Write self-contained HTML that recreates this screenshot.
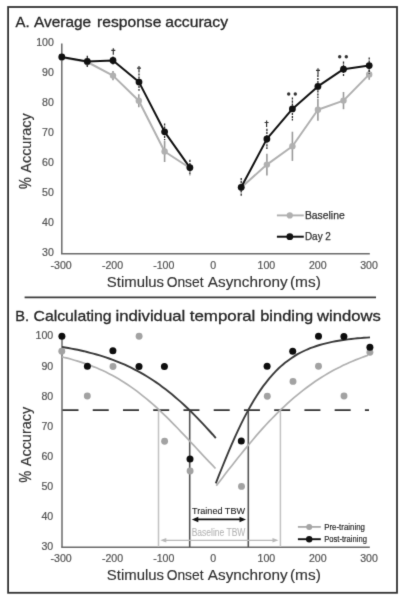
<!DOCTYPE html>
<html><head><meta charset="utf-8"><style>
html,body{margin:0;padding:0;background:#fff;}
body{width:403px;height:600px;overflow:hidden;}
svg{display:block;}
</style></head><body>
<svg width="403" height="600" viewBox="0 0 403 600" font-family='"Liberation Sans", sans-serif'>
<defs><filter id="b" x="0" y="0" width="403" height="600" filterUnits="userSpaceOnUse" color-interpolation-filters="sRGB"><feConvolveMatrix order="3" kernelMatrix="0.01134 0.08382 0.01134 0.08382 0.61935 0.08382 0.01134 0.08382 0.01134" divisor="1" edgeMode="none"/></filter></defs>
<rect x="0" y="0" width="403" height="600" fill="#fff"/>
<g filter="url(#b)">
<rect x="8.1" y="7" width="388.9" height="585.8" fill="none" stroke="#333" stroke-width="1.8"/>
<line x1="24.6" y1="297.4" x2="376" y2="297.4" stroke="#3c3c3c" stroke-width="1.6"/>
<text x="15.50" y="27.10" font-size="15" fill="#262626" stroke="#262626" stroke-width="0.3" textLength="14.08" lengthAdjust="spacingAndGlyphs">A.</text>
<text x="34.00" y="27.10" font-size="15" fill="#262626" stroke="#262626" stroke-width="0.3" textLength="57.13" lengthAdjust="spacingAndGlyphs">Average</text>
<text x="97.12" y="27.10" font-size="15" fill="#262626" stroke="#262626" stroke-width="0.3" textLength="64.27" lengthAdjust="spacingAndGlyphs">response</text>
<text x="165.28" y="27.10" font-size="15" fill="#262626" stroke="#262626" stroke-width="0.3" textLength="62.76" lengthAdjust="spacingAndGlyphs">accuracy</text>
<text x="15.22" y="320.80" font-size="15" fill="#262626" stroke="#262626" stroke-width="0.3" textLength="13.83" lengthAdjust="spacingAndGlyphs">B.</text>
<text x="33.47" y="320.80" font-size="15" fill="#262626" stroke="#262626" stroke-width="0.3" textLength="78.18" lengthAdjust="spacingAndGlyphs">Calculating</text>
<text x="115.46" y="320.80" font-size="15" fill="#262626" stroke="#262626" stroke-width="0.3" textLength="69.83" lengthAdjust="spacingAndGlyphs">individual</text>
<text x="189.80" y="320.80" font-size="15" fill="#262626" stroke="#262626" stroke-width="0.3" textLength="65.57" lengthAdjust="spacingAndGlyphs">temporal</text>
<text x="260.18" y="320.80" font-size="15" fill="#262626" stroke="#262626" stroke-width="0.3" textLength="53.10" lengthAdjust="spacingAndGlyphs">binding</text>
<text x="317.08" y="320.80" font-size="15" fill="#262626" stroke="#262626" stroke-width="0.3" textLength="63.71" lengthAdjust="spacingAndGlyphs">windows</text>
<line x1="61.8" y1="43.40" x2="61.8" y2="253.80" stroke="#6a6a6a" stroke-width="1.5"/>
<line x1="61.05" y1="253.80" x2="369.8" y2="253.80" stroke="#6a6a6a" stroke-width="1.5"/>
<text x="53.90" y="255.99" font-size="10.6" fill="#555" stroke="#555" stroke-width="0.2" text-anchor="end">30</text>
<text x="53.90" y="225.92" font-size="10.6" fill="#555" stroke="#555" stroke-width="0.2" text-anchor="end">40</text>
<text x="53.90" y="195.85" font-size="10.6" fill="#555" stroke="#555" stroke-width="0.2" text-anchor="end">50</text>
<text x="53.90" y="165.78" font-size="10.6" fill="#555" stroke="#555" stroke-width="0.2" text-anchor="end">60</text>
<text x="53.90" y="135.71" font-size="10.6" fill="#555" stroke="#555" stroke-width="0.2" text-anchor="end">70</text>
<text x="53.90" y="105.64" font-size="10.6" fill="#555" stroke="#555" stroke-width="0.2" text-anchor="end">80</text>
<text x="53.90" y="75.57" font-size="10.6" fill="#555" stroke="#555" stroke-width="0.2" text-anchor="end">90</text>
<text x="53.90" y="45.50" font-size="10.6" fill="#555" stroke="#555" stroke-width="0.2" text-anchor="end">100</text>
<text x="61.17" y="268.60" font-size="10.6" fill="#555" stroke="#555" stroke-width="0.2" text-anchor="middle">-300</text>
<text x="112.48" y="268.60" font-size="10.6" fill="#555" stroke="#555" stroke-width="0.2" text-anchor="middle">-200</text>
<text x="163.79" y="268.60" font-size="10.6" fill="#555" stroke="#555" stroke-width="0.2" text-anchor="middle">-100</text>
<text x="213.20" y="268.60" font-size="10.6" fill="#555" stroke="#555" stroke-width="0.2" text-anchor="middle">0</text>
<text x="266.41" y="268.60" font-size="10.6" fill="#555" stroke="#555" stroke-width="0.2" text-anchor="middle">100</text>
<text x="317.72" y="268.60" font-size="10.6" fill="#555" stroke="#555" stroke-width="0.2" text-anchor="middle">200</text>
<text x="369.03" y="268.60" font-size="10.6" fill="#555" stroke="#555" stroke-width="0.2" text-anchor="middle">300</text>
<text x="106.87" y="286.50" font-size="14.2" fill="#333" stroke="#333" stroke-width="0.15" textLength="57.15" lengthAdjust="spacingAndGlyphs">Stimulus</text>
<text x="166.71" y="286.50" font-size="14.2" fill="#333" stroke="#333" stroke-width="0.15" textLength="36.79" lengthAdjust="spacingAndGlyphs">Onset</text>
<text x="207.80" y="286.50" font-size="14.2" fill="#333" stroke="#333" stroke-width="0.15" textLength="79.93" lengthAdjust="spacingAndGlyphs">Asynchrony</text>
<text x="289.98" y="286.50" font-size="14.2" fill="#333" stroke="#333" stroke-width="0.15" textLength="30.87" lengthAdjust="spacingAndGlyphs">(ms)</text>
<g transform="translate(30.7 188.70) rotate(-90)">
<text x="-0.40" y="0.00" font-size="16.5" fill="#333" stroke="#333" stroke-width="0.3" textLength="11.74" lengthAdjust="spacingAndGlyphs">%</text>
<text x="16.00" y="0.00" font-size="15.2" fill="#333" stroke="#333" stroke-width="0.15" textLength="59.37" lengthAdjust="spacingAndGlyphs">Accuracy</text>
</g>
<line x1="61.8" y1="57.50" x2="61.8" y2="57.50" stroke="#9a9a9a" stroke-width="1.6"/>
<line x1="87.3" y1="58.00" x2="87.3" y2="66.00" stroke="#9a9a9a" stroke-width="1.6"/>
<line x1="113.0" y1="70.90" x2="113.0" y2="80.30" stroke="#9a9a9a" stroke-width="1.6"/>
<line x1="138.8" y1="94.30" x2="138.8" y2="107.30" stroke="#9a9a9a" stroke-width="1.6"/>
<line x1="164.6" y1="141.00" x2="164.6" y2="162.00" stroke="#9a9a9a" stroke-width="1.6"/>
<line x1="189.9" y1="164.00" x2="189.9" y2="172.00" stroke="#9a9a9a" stroke-width="1.6"/>
<line x1="241.2" y1="183.50" x2="241.2" y2="191.50" stroke="#9a9a9a" stroke-width="1.6"/>
<line x1="266.9" y1="153.80" x2="266.9" y2="175.40" stroke="#9a9a9a" stroke-width="1.6"/>
<line x1="292.4" y1="131.70" x2="292.4" y2="160.90" stroke="#9a9a9a" stroke-width="1.6"/>
<line x1="317.9" y1="98.70" x2="317.9" y2="120.70" stroke="#9a9a9a" stroke-width="1.6"/>
<line x1="343.5" y1="92.00" x2="343.5" y2="109.20" stroke="#9a9a9a" stroke-width="1.6"/>
<line x1="369.2" y1="69.10" x2="369.2" y2="79.70" stroke="#9a9a9a" stroke-width="1.6"/>
<polyline points="61.8,57.5 87.3,62.0 113.0,75.6 138.8,100.8 164.6,151.5 189.9,168.0" fill="none" stroke="#b0b0b0" stroke-width="2.0" stroke-linejoin="round"/>
<polyline points="241.2,187.5 266.9,164.6 292.4,146.3 317.9,109.7 343.5,100.6 369.2,74.4" fill="none" stroke="#b0b0b0" stroke-width="2.0" stroke-linejoin="round"/>
<circle cx="61.8" cy="57.5" r="3.2" fill="#b0b0b0"/>
<circle cx="87.3" cy="62.0" r="3.2" fill="#b0b0b0"/>
<circle cx="113.0" cy="75.6" r="3.2" fill="#b0b0b0"/>
<circle cx="138.8" cy="100.8" r="3.2" fill="#b0b0b0"/>
<circle cx="164.6" cy="151.5" r="3.2" fill="#b0b0b0"/>
<circle cx="189.9" cy="168.0" r="3.2" fill="#b0b0b0"/>
<circle cx="241.2" cy="187.5" r="3.2" fill="#b0b0b0"/>
<circle cx="266.9" cy="164.6" r="3.2" fill="#b0b0b0"/>
<circle cx="292.4" cy="146.3" r="3.2" fill="#b0b0b0"/>
<circle cx="317.9" cy="109.7" r="3.2" fill="#b0b0b0"/>
<circle cx="343.5" cy="100.6" r="3.2" fill="#b0b0b0"/>
<circle cx="369.2" cy="74.4" r="3.2" fill="#b0b0b0"/>
<line x1="61.8" y1="57.00" x2="61.8" y2="57.00" stroke="#2a2a2a" stroke-width="1.3" stroke-dasharray="2.2 0.9"/>
<line x1="87.3" y1="55.80" x2="87.3" y2="67.00" stroke="#2a2a2a" stroke-width="1.3" stroke-dasharray="2.2 0.9"/>
<line x1="113.0" y1="56.50" x2="113.0" y2="64.50" stroke="#2a2a2a" stroke-width="1.3" stroke-dasharray="2.2 0.9"/>
<line x1="139.0" y1="73.40" x2="139.0" y2="90.80" stroke="#2a2a2a" stroke-width="1.3" stroke-dasharray="2.2 0.9"/>
<line x1="164.6" y1="123.40" x2="164.6" y2="140.20" stroke="#2a2a2a" stroke-width="1.3" stroke-dasharray="2.2 0.9"/>
<line x1="189.9" y1="159.80" x2="189.9" y2="175.40" stroke="#2a2a2a" stroke-width="1.3" stroke-dasharray="2.2 0.9"/>
<line x1="241.2" y1="178.00" x2="241.2" y2="196.60" stroke="#2a2a2a" stroke-width="1.3" stroke-dasharray="2.2 0.9"/>
<line x1="266.9" y1="128.70" x2="266.9" y2="149.10" stroke="#2a2a2a" stroke-width="1.3" stroke-dasharray="2.2 0.9"/>
<line x1="292.4" y1="97.40" x2="292.4" y2="120.40" stroke="#2a2a2a" stroke-width="1.3" stroke-dasharray="2.2 0.9"/>
<line x1="317.9" y1="74.80" x2="317.9" y2="98.00" stroke="#2a2a2a" stroke-width="1.3" stroke-dasharray="2.2 0.9"/>
<line x1="343.5" y1="61.50" x2="343.5" y2="76.90" stroke="#2a2a2a" stroke-width="1.3" stroke-dasharray="2.2 0.9"/>
<line x1="369.2" y1="57.40" x2="369.2" y2="73.80" stroke="#2a2a2a" stroke-width="1.3" stroke-dasharray="2.2 0.9"/>
<polyline points="61.8,57.0 87.3,61.4 113.0,60.5 139.0,82.1 164.6,131.8 189.9,167.6" fill="none" stroke="#111" stroke-width="2.0" stroke-linejoin="round"/>
<polyline points="241.2,187.3 266.9,138.9 292.4,108.9 317.9,86.4 343.5,69.2 369.2,65.6" fill="none" stroke="#111" stroke-width="2.0" stroke-linejoin="round"/>
<circle cx="61.8" cy="57.0" r="3.4" fill="#111"/>
<circle cx="87.3" cy="61.4" r="3.4" fill="#111"/>
<circle cx="113.0" cy="60.5" r="3.4" fill="#111"/>
<circle cx="139.0" cy="82.1" r="3.4" fill="#111"/>
<circle cx="164.6" cy="131.8" r="3.4" fill="#111"/>
<circle cx="189.9" cy="167.6" r="3.4" fill="#111"/>
<circle cx="241.2" cy="187.3" r="3.4" fill="#111"/>
<circle cx="266.9" cy="138.9" r="3.4" fill="#111"/>
<circle cx="292.4" cy="108.9" r="3.4" fill="#111"/>
<circle cx="317.9" cy="86.4" r="3.4" fill="#111"/>
<circle cx="343.5" cy="69.2" r="3.4" fill="#111"/>
<circle cx="369.2" cy="65.6" r="3.4" fill="#111"/>
<path d="M113.3,48.2 V54.800000000000004 M111.3,50.300000000000004 H115.3" stroke="#333" stroke-width="1.2" fill="none"/>
<path d="M139,66 V72.6 M137.0,68.1 H141.0" stroke="#333" stroke-width="1.2" fill="none"/>
<path d="M266.6,120.4 V127.0 M264.6,122.5 H268.6" stroke="#333" stroke-width="1.2" fill="none"/>
<path d="M318,68.2 V74.8 M316.0,70.3 H320.0" stroke="#333" stroke-width="1.2" fill="none"/>
<circle cx="288.7" cy="94" r="1.7" fill="#333"/><circle cx="295.3" cy="94" r="1.7" fill="#333"/>
<circle cx="339.7" cy="56.8" r="1.7" fill="#333"/><circle cx="346.3" cy="56.8" r="1.7" fill="#333"/>
<line x1="276.9" y1="215.4" x2="303.8" y2="215.4" stroke="#b0b0b0" stroke-width="1.9"/><circle cx="289.8" cy="215.4" r="3.1" fill="#b0b0b0"/>
<line x1="276.9" y1="236.7" x2="303.8" y2="236.7" stroke="#111" stroke-width="2.0"/><circle cx="289.8" cy="236.7" r="3.4" fill="#111"/>
<text x="304.92" y="219.00" font-size="10" fill="#333" stroke="#333" stroke-width="0.25" textLength="39.75" lengthAdjust="spacingAndGlyphs">Baseline</text>
<text x="304.96" y="239.90" font-size="10" fill="#333" stroke="#333" stroke-width="0.25" textLength="25.92" lengthAdjust="spacingAndGlyphs">Day 2</text>
<line x1="62.0" y1="337.00" x2="62.0" y2="547.30" stroke="#6a6a6a" stroke-width="1.5"/>
<line x1="61.25" y1="547.30" x2="369.8" y2="547.30" stroke="#6a6a6a" stroke-width="1.5"/>
<text x="53.20" y="550.10" font-size="10.6" fill="#555" stroke="#555" stroke-width="0.2" text-anchor="end">30</text>
<text x="53.20" y="520.00" font-size="10.6" fill="#555" stroke="#555" stroke-width="0.2" text-anchor="end">40</text>
<text x="53.20" y="489.90" font-size="10.6" fill="#555" stroke="#555" stroke-width="0.2" text-anchor="end">50</text>
<text x="53.20" y="459.80" font-size="10.6" fill="#555" stroke="#555" stroke-width="0.2" text-anchor="end">60</text>
<text x="53.20" y="429.70" font-size="10.6" fill="#555" stroke="#555" stroke-width="0.2" text-anchor="end">70</text>
<text x="53.20" y="399.60" font-size="10.6" fill="#555" stroke="#555" stroke-width="0.2" text-anchor="end">80</text>
<text x="53.20" y="369.50" font-size="10.6" fill="#555" stroke="#555" stroke-width="0.2" text-anchor="end">90</text>
<text x="53.20" y="339.40" font-size="10.6" fill="#555" stroke="#555" stroke-width="0.2" text-anchor="end">100</text>
<text x="61.17" y="562.00" font-size="10.6" fill="#555" stroke="#555" stroke-width="0.2" text-anchor="middle">-300</text>
<text x="112.48" y="562.00" font-size="10.6" fill="#555" stroke="#555" stroke-width="0.2" text-anchor="middle">-200</text>
<text x="163.79" y="562.00" font-size="10.6" fill="#555" stroke="#555" stroke-width="0.2" text-anchor="middle">-100</text>
<text x="213.20" y="562.00" font-size="10.6" fill="#555" stroke="#555" stroke-width="0.2" text-anchor="middle">0</text>
<text x="266.41" y="562.00" font-size="10.6" fill="#555" stroke="#555" stroke-width="0.2" text-anchor="middle">100</text>
<text x="317.72" y="562.00" font-size="10.6" fill="#555" stroke="#555" stroke-width="0.2" text-anchor="middle">200</text>
<text x="369.03" y="562.00" font-size="10.6" fill="#555" stroke="#555" stroke-width="0.2" text-anchor="middle">300</text>
<text x="106.87" y="580.20" font-size="14.2" fill="#333" stroke="#333" stroke-width="0.15" textLength="57.15" lengthAdjust="spacingAndGlyphs">Stimulus</text>
<text x="166.71" y="580.20" font-size="14.2" fill="#333" stroke="#333" stroke-width="0.15" textLength="36.79" lengthAdjust="spacingAndGlyphs">Onset</text>
<text x="207.80" y="580.20" font-size="14.2" fill="#333" stroke="#333" stroke-width="0.15" textLength="79.93" lengthAdjust="spacingAndGlyphs">Asynchrony</text>
<text x="289.98" y="580.20" font-size="14.2" fill="#333" stroke="#333" stroke-width="0.15" textLength="30.87" lengthAdjust="spacingAndGlyphs">(ms)</text>
<g transform="translate(30.7 482.20) rotate(-90)">
<text x="-0.40" y="0.00" font-size="16.5" fill="#333" stroke="#333" stroke-width="0.3" textLength="11.74" lengthAdjust="spacingAndGlyphs">%</text>
<text x="16.00" y="0.00" font-size="15.2" fill="#333" stroke="#333" stroke-width="0.15" textLength="59.37" lengthAdjust="spacingAndGlyphs">Accuracy</text>
</g>
<line x1="62.5" y1="410.2" x2="369" y2="410.2" stroke="#333" stroke-width="1.8" stroke-dasharray="16 14.24"/>
<line x1="158.5" y1="410.2" x2="158.5" y2="547" stroke="#c2c2c2" stroke-width="1.5"/>
<line x1="280.4" y1="410.2" x2="280.4" y2="547" stroke="#c2c2c2" stroke-width="1.5"/>
<line x1="189.7" y1="410.2" x2="189.7" y2="547" stroke="#555" stroke-width="1.6"/>
<line x1="248.3" y1="410.2" x2="248.3" y2="547" stroke="#555" stroke-width="1.6"/>
<path d="M62.0,356.9 L65.1,357.7 L68.3,358.4 L71.4,359.3 L74.5,360.2 L77.7,361.1 L80.8,362.1 L83.9,363.1 L87.1,364.2 L90.2,365.3 L93.3,366.6 L96.5,367.8 L99.6,369.2 L102.7,370.6 L105.9,372.1 L109.0,373.7 L112.1,375.3 L115.3,377.0 L118.4,378.8 L121.5,380.7 L124.7,382.7 L127.8,384.8 L130.9,386.9 L134.1,389.1 L137.2,391.4 L140.3,393.8 L143.4,396.3 L146.6,398.9 L149.7,401.5 L152.8,404.2 L156.0,407.0 L159.1,409.9 L162.2,412.8 L165.4,415.9 L168.5,418.9 L171.6,422.1 L174.8,425.3 L177.9,428.5 L181.0,431.8 L184.2,435.1 L187.3,438.4 L190.4,441.8 L193.6,445.1 L196.7,448.5 L199.8,451.9 L203.0,455.3 L206.1,458.6 L209.2,461.9 L212.4,465.2 L215.5,468.5" fill="none" stroke="#b0b0b0" stroke-width="1.7" stroke-linecap="butt"/>
<path d="M216.3,485.8 L219.4,481.7 L222.5,477.7 L225.6,473.6 L228.7,469.6 L231.8,465.7 L234.9,461.7 L238.0,457.8 L241.1,454.0 L244.2,450.1 L247.3,446.4 L250.4,442.7 L253.5,439.0 L256.5,435.4 L259.6,431.9 L262.7,428.4 L265.8,425.0 L268.9,421.7 L272.0,418.5 L275.1,415.3 L278.2,412.2 L281.3,409.2 L284.4,406.3 L287.5,403.4 L290.6,400.6 L293.7,397.9 L296.8,395.3 L299.9,392.8 L303.0,390.4 L306.1,388.0 L309.2,385.7 L312.3,383.5 L315.4,381.3 L318.5,379.3 L321.6,377.3 L324.7,375.4 L327.8,373.5 L330.8,371.8 L333.9,370.1 L337.0,368.4 L340.1,366.9 L343.2,365.3 L346.3,363.9 L349.4,362.5 L352.5,361.2 L355.6,359.9 L358.7,358.7 L361.8,357.5 L364.9,356.4 L368.0,355.3" fill="none" stroke="#b0b0b0" stroke-width="1.7" stroke-linecap="butt"/>
<path d="M62.0,347.0 L65.1,347.5 L68.3,348.0 L71.4,348.6 L74.6,349.2 L77.7,349.8 L80.8,350.5 L84.0,351.2 L87.1,352.0 L90.2,352.8 L93.4,353.6 L96.5,354.5 L99.7,355.4 L102.8,356.4 L105.9,357.4 L109.1,358.5 L112.2,359.6 L115.4,360.8 L118.5,362.1 L121.6,363.4 L124.8,364.7 L127.9,366.2 L131.1,367.7 L134.2,369.3 L137.3,370.9 L140.5,372.6 L143.6,374.4 L146.7,376.3 L149.9,378.3 L153.0,380.3 L156.2,382.4 L159.3,384.6 L162.4,386.9 L165.6,389.3 L168.7,391.7 L171.9,394.3 L175.0,396.9 L178.1,399.6 L181.3,402.4 L184.4,405.3 L187.6,408.3 L190.7,411.3 L193.8,414.4 L197.0,417.6 L200.1,420.9 L203.2,424.2 L206.4,427.6 L209.5,431.0 L212.7,434.5 L215.8,438.1" fill="none" stroke="#3a3a3a" stroke-width="1.9" stroke-linecap="butt"/>
<path d="M215.8,483.3 L218.9,475.3 L222.1,467.5 L225.2,459.8 L228.4,452.2 L231.5,444.8 L234.7,437.7 L237.8,430.8 L241.0,424.2 L244.1,417.9 L247.3,411.9 L250.4,406.2 L253.6,400.8 L256.7,395.7 L259.9,390.9 L263.0,386.4 L266.2,382.3 L269.3,378.4 L272.4,374.8 L275.6,371.4 L278.7,368.3 L281.9,365.4 L285.0,362.8 L288.2,360.4 L291.3,358.2 L294.5,356.1 L297.6,354.2 L300.8,352.5 L303.9,351.0 L307.1,349.5 L310.2,348.2 L313.4,347.1 L316.5,346.0 L319.6,345.0 L322.8,344.1 L325.9,343.3 L329.1,342.6 L332.2,341.9 L335.4,341.3 L338.5,340.7 L341.7,340.2 L344.8,339.8 L348.0,339.4 L351.1,339.0 L354.3,338.6 L357.4,338.3 L360.6,338.1 L363.7,337.8 L366.9,337.6 L370.0,337.4" fill="none" stroke="#3a3a3a" stroke-width="1.9" stroke-linecap="butt"/>
<circle cx="61.8" cy="351.3" r="3.45" fill="#a2a2a2"/>
<circle cx="87.3" cy="396" r="3.45" fill="#a2a2a2"/>
<circle cx="113.0" cy="366.5" r="3.45" fill="#a2a2a2"/>
<circle cx="139.1" cy="336.2" r="3.45" fill="#a2a2a2"/>
<circle cx="164.6" cy="441.25" r="3.45" fill="#a2a2a2"/>
<circle cx="190.1" cy="471.0" r="3.45" fill="#a2a2a2"/>
<circle cx="241.5" cy="486.4" r="3.45" fill="#a2a2a2"/>
<circle cx="267.3" cy="396.3" r="3.45" fill="#a2a2a2"/>
<circle cx="293.0" cy="381.4" r="3.45" fill="#a2a2a2"/>
<circle cx="318.5" cy="366.2" r="3.45" fill="#a2a2a2"/>
<circle cx="344" cy="396" r="3.45" fill="#a2a2a2"/>
<circle cx="369.9" cy="352.3" r="3.45" fill="#a2a2a2"/>
<circle cx="61.9" cy="336.3" r="3.5" fill="#0d0d0d"/>
<circle cx="87.4" cy="366.2" r="3.5" fill="#0d0d0d"/>
<circle cx="112.9" cy="350.8" r="3.5" fill="#0d0d0d"/>
<circle cx="139.0" cy="366.6" r="3.5" fill="#0d0d0d"/>
<circle cx="164.4" cy="366.6" r="3.5" fill="#0d0d0d"/>
<circle cx="190.0" cy="459.0" r="3.5" fill="#0d0d0d"/>
<circle cx="241.3" cy="441.0" r="3.5" fill="#0d0d0d"/>
<circle cx="267.1" cy="366.3" r="3.5" fill="#0d0d0d"/>
<circle cx="292.7" cy="351.2" r="3.5" fill="#0d0d0d"/>
<circle cx="318.5" cy="336.3" r="3.5" fill="#0d0d0d"/>
<circle cx="343.9" cy="336.4" r="3.5" fill="#0d0d0d"/>
<circle cx="369.9" cy="347.2" r="3.5" fill="#0d0d0d"/>
<line x1="197.8" y1="519.4" x2="240.0" y2="519.4" stroke="#111" stroke-width="1.6"/>
<path d="M191.8,519.4 L198.3,516.65 L198.3,522.15 Z" fill="#111"/>
<path d="M246,519.4 L239.5,516.65 L239.5,522.15 Z" fill="#111"/>
<line x1="165.8" y1="540.3" x2="273.0" y2="540.3" stroke="#b8b8b8" stroke-width="1.3"/>
<path d="M160.3,540.3 L166.3,538.05 L166.3,542.55 Z" fill="#b8b8b8"/>
<path d="M278.5,540.3 L272.5,538.05 L272.5,542.55 Z" fill="#b8b8b8"/>
<text x="192.07" y="513.80" font-size="9.8" fill="#222" stroke="#222" stroke-width="0.1" textLength="52.96" lengthAdjust="spacingAndGlyphs">Trained TBW</text>
<text x="191.67" y="535.50" font-size="10.2" fill="#b5b5b5" stroke="#b5b5b5" stroke-width="0.1" textLength="53.71" lengthAdjust="spacingAndGlyphs">Baseline TBW</text>
<line x1="297.9" y1="526.9" x2="320.8" y2="526.9" stroke="#aaa" stroke-width="1.8"/><circle cx="309.2" cy="526.9" r="3.0" fill="#a5a5a5"/>
<line x1="297.9" y1="539.2" x2="320.8" y2="539.2" stroke="#111" stroke-width="1.9"/><circle cx="309.2" cy="539.2" r="3.2" fill="#111"/>
<text x="324.23" y="529.50" font-size="8.4" fill="#222" stroke="#222" stroke-width="0.15" textLength="40.68" lengthAdjust="spacingAndGlyphs">Pre-training</text>
<text x="324.25" y="542.20" font-size="8.4" fill="#222" stroke="#222" stroke-width="0.15" textLength="42.62" lengthAdjust="spacingAndGlyphs">Post-training</text>
</g></svg>
</body></html>
